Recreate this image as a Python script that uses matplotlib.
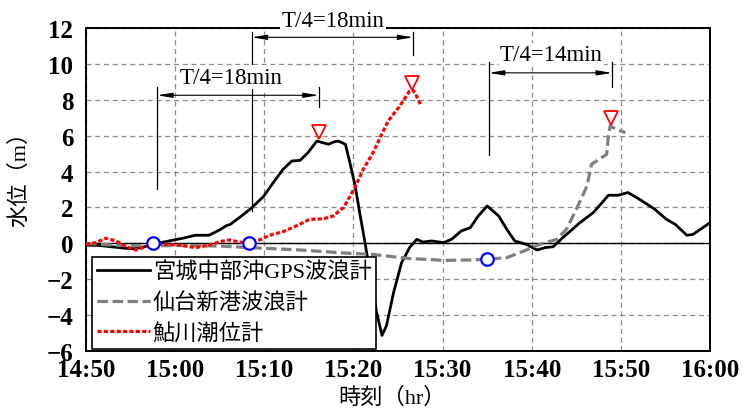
import matplotlib
matplotlib.use("Agg")
import matplotlib.pyplot as plt

plt.rcParams['font.family'] = ['Liberation Serif', 'Noto Sans CJK JP']

# time axis: minutes after 14:50
tick_minutes = [0, 10, 20, 30, 40, 50, 60, 70]
tick_labels = ['14:50', '15:00', '15:10', '15:20', '15:30', '15:40', '15:50', '16:00']
y_ticks = [-6, -4, -2, 0, 2, 4, 6, 8, 10, 12]

# 宮城中部沖GPS波浪計
gps_t = [0, 1.5, 3, 4.5, 5.5, 6.5, 7.5, 8.5, 10, 11, 12.3, 13.8, 15, 15.7, 16.2, 17.2,
         18.4, 19.9, 21, 22.1, 23.1, 24, 24.9, 25.9, 26.6, 27.2, 27.8, 28.3, 29.1, 29.6,
         30.2, 30.7, 31.3, 31.9, 32.6, 33.2, 33.7, 34.5, 35.4, 36.3, 37.1, 37.8, 38.2,
         38.8, 40.1, 41, 42.1, 43.1, 44, 45, 46.3, 47.2, 48.1, 49.4, 50.6, 51.5, 52.4,
         53.5, 55.4, 56.9, 57.9, 58.6, 59.7, 60.8, 62.1, 63.8, 65.1, 66.1, 67.4, 68.1, 70]
gps_h = [-0.1, -0.12, -0.2, -0.28, -0.3, -0.2, -0.05, 0.05, 0.2, 0.3, 0.45, 0.45, 0.75,
         0.97, 1.06, 1.43, 1.9, 2.6, 3.38, 4.12, 4.59, 4.62, 5.05, 5.7, 5.6, 5.52, 5.65,
         5.7, 5.52, 4.5, 3.19, 1.71, 0.04, -1.82, -3.85, -5.13, -4.6, -2.75, -1.08, -0.24,
         0.22, 0.07, 0.1, 0.13, 0.04, 0.22, 0.69, 0.87, 1.52, 2.08, 1.52, 0.78, 0.13, -0.06,
         -0.37, -0.24, -0.19, 0.32, 1.15, 1.71, 2.27, 2.68, 2.68, 2.83, 2.45, 1.9, 1.34,
         1.06, 0.45, 0.5, 1.15]

# 仙台新港波浪計
sendai_t = [0, 3, 7, 10, 15, 18.5, 24, 29.6, 32, 36.3, 38.5, 40, 43, 45, 47.2, 49.1,
            50.9, 52.8, 53.9, 55, 56.2, 56.7, 58.4, 58.6, 58.8, 59.5, 60.5]
sendai_h = [0.0, -0.1, -0.15, -0.12, -0.15, -0.24, -0.37, -0.56, -0.61, -0.85, -0.9,
            -0.95, -0.93, -0.89, -0.8, -0.43, -0.06, 0.22, 0.78, 1.9, 3.19, 4.4, 4.96,
            5.98, 6.54, 6.35, 6.17]

# 鮎川潮位計
ayu_t = [0, 1.1, 2.2, 3.4, 4.5, 5.6, 6.7, 7.5, 9, 10.5, 12.3, 13.8, 15, 16.1, 17.2, 18.3,
         19.8, 20.6, 22.1, 23.6, 25.1, 26.6, 27.7, 28.9, 30.2, 31.1, 32.2, 33.0, 33.9,
         35.2, 36.3, 36.6, 36.9, 37.5]
ayu_h = [-0.06, 0.04, 0.28, 0.13, -0.19, -0.37, -0.19, 0.0, -0.06, -0.1, -0.24, -0.1,
         0.09, 0.19, 0.07, 0.0, 0.25, 0.45, 0.65, 0.97, 1.34, 1.36, 1.52, 1.99, 3.15,
         4.12, 5.05, 5.9, 6.82, 7.65, 8.49, 8.55, 8.4, 7.75]

# wave arrival points and peak markers
start_t = [7.5, 18.3, 45.0]
start_h = [0.0, 0.0, -0.89]
peak_t = [26.1, 36.6, 58.9]
peak_h = [6.2, 8.96, 7.0]

# quarter-period brackets: left x, right x, arrow y, left line span, right tick span, text
span_left = [8.0, 18.6, 45.2]
span_right = [26.1, 36.7, 59.0]
span_y = [8.25, 11.48, 9.5]
left_lo = [3.0, 1.8, 4.9]
left_hi = [8.7, 11.8, 10.1]
right_lo = [7.6, 10.5, 8.73]
right_hi = [8.7, 11.76, 10.1]
span_text = ['T/4=18min', 'T/4=18min', 'T/4=14min']
text_x = [16.3, 27.7, 52.2]
text_y = [9.25, 12.4, 10.5]

fig = plt.figure(figsize=(7.42, 4.10), dpi=100)
ax = fig.add_axes([0.1159, 0.1415, 0.841, 0.7878])

ax.plot(gps_t, gps_h, color='black', lw=2.0, label='宮城中部沖GPS波浪計', zorder=4)
ax.plot(sendai_t, sendai_h, color='#808080', lw=2.3, linestyle=(0, (3.3, 1.4)),
        label='仙台新港波浪計', zorder=4)
ax.plot(ayu_t, ayu_h, color='red', lw=2.3, linestyle=(0, (1.3, 0.7)),
        label='鮎川潮位計', zorder=4)

ax.plot(start_t, start_h, 'o', ms=9, mfc='white', mec='blue', mew=1.6,
        linestyle='none', zorder=5)
ax.plot(peak_t, peak_h, 'v', ms=10, mfc='none', mec='red', mew=1.3,
        linestyle='none', zorder=5)

ax.axhline(0, color='black', lw=1.0, zorder=1.5)

for i in range(len(span_text)):
    ax.plot([span_left[i], span_left[i]], [left_lo[i], left_hi[i]], color='black', lw=0.9, zorder=2)
    ax.plot([span_right[i], span_right[i]], [right_lo[i], right_hi[i]], color='black', lw=0.9, zorder=2)
    ax.annotate('', xy=(span_right[i], span_y[i]), xytext=(span_left[i], span_y[i]),
                arrowprops=dict(arrowstyle='<|-|>,head_length=0.9,head_width=0.15',
                                color='black', lw=0.8, shrinkA=0, shrinkB=0), zorder=2)
    ax.text(text_x[i], text_y[i], span_text[i], ha='center', va='center', fontsize=16.5,
            family='Liberation Serif', clip_on=False, zorder=6,
            bbox=dict(facecolor='white', edgecolor='none', pad=1.0))

ax.set_xlim(0, 70)
ax.set_ylim(-6, 12)
ax.set_xticks(tick_minutes)
ax.set_xticklabels(tick_labels)
ax.set_yticks(y_ticks)
for lab in ax.get_xticklabels() + ax.get_yticklabels():
    lab.set_fontweight('bold')
    lab.set_fontsize(18)
    lab.set_family('Liberation Serif')
ax.tick_params(axis='both', direction='in', length=0)
ax.tick_params(axis='x', pad=5)
ax.tick_params(axis='y', pad=9)

ax.grid(True, color='#8c8c8c', linestyle=(0, (4, 3)), lw=0.9)
ax.set_axisbelow(True)
for s in ax.spines.values():
    s.set_color('black')
    s.set_linewidth(1.4)

ax.set_xlabel('時刻（hr）', fontsize=16)
ax.set_ylabel('水位（m）', fontsize=16)
ax.xaxis.set_label_coords(0.49, -0.11)
ax.yaxis.set_label_coords(-0.09, 0.55)

leg = ax.legend(loc='lower left', bbox_to_anchor=(0.01, 0.006), borderaxespad=0,
                fontsize=16, handlelength=2.4, labelspacing=0.43, handletextpad=0.1,
                borderpad=0.22, fancybox=False, framealpha=1, edgecolor='black')
leg.get_frame().set_linewidth(1.2)

fig.savefig('out.png', dpi=100)
